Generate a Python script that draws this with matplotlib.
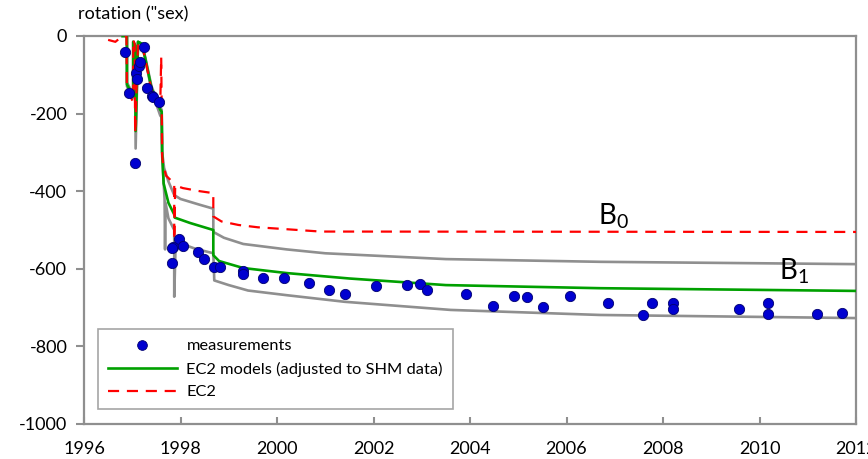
import matplotlib
matplotlib.use('Agg')
import matplotlib.pyplot as plt
from matplotlib.lines import Line2D

plt.rcParams['font.family'] = ['Lato', 'DejaVu Sans']
plt.rcParams['mathtext.fontset'] = 'custom'
plt.rcParams['mathtext.rm'] = 'Lato'
plt.rcParams['mathtext.it'] = 'Lato'
plt.rcParams['mathtext.default'] = 'regular'
plt.rcParams['axes.unicode_minus'] = False

# measured rotations
meas_year = [1996.85, 1996.93, 1997.06, 1997.08, 1997.10, 1997.14, 1997.16, 1997.24,
             1997.31, 1997.41, 1997.43, 1997.56,
             1997.96, 1997.85, 1997.83, 1998.06, 1997.83, 1998.36, 1998.48, 1998.70,
             1998.81, 1999.29, 1999.29, 1999.71, 2000.15,
             2000.67, 2001.07, 2001.40, 2002.06, 2002.69, 2002.96, 2003.11, 2003.91,
             2004.47, 2004.91, 2005.19, 2005.52, 2006.07,
             2006.86, 2007.58, 2007.78, 2008.21, 2008.21, 2009.57, 2010.18, 2010.18,
             2011.19, 2011.71]
meas_rot = [-41, -147, -327, -95, -111, -77, -67, -28,
            -134, -155, -157, -170,
            -523, -543, -547, -540, -584, -557, -575, -595,
            -595, -605, -614, -623, -624,
            -637, -654, -666, -644, -643, -639, -655, -664,
            -697, -669, -672, -699, -669,
            -688, -718, -689, -689, -704, -704, -687, -717,
            -716, -713]

# EC2 model (B0)
ec2_year = [1996.50, 1996.65, 1996.80, 1996.88, 1996.89, 1997.02, 1997.02, 1997.05,
            1997.06, 1997.12, 1997.20, 1997.27, 1997.40, 1997.58, 1997.60, 1997.62,
            1997.64, 1997.70, 1997.87, 1997.87, 1997.89, 1998.05, 1998.40, 1998.68,
            1998.68, 1998.85, 1999.20, 1999.60, 2000.20, 2000.90, 2012.00]
ec2_rot = [-10, -15, 0, 0, -140, -170, -10, -20,
           -250, -15, -20, -60, -140, -180, -55, -310,
           -330, -360, -380, -525, -385, -392, -400, -405,
           -465, -478, -487, -493, -498, -504, -505]

# EC2 adjusted to SHM data (B1)
adj_year = [1996.80, 1996.89, 1996.89, 1997.02, 1997.02, 1997.06, 1997.07, 1997.12,
            1997.20, 1997.27, 1997.40, 1997.58, 1997.61, 1997.62, 1997.65, 1997.75,
            1997.87, 1997.88, 1998.20, 1998.68, 1998.68, 1998.80, 1999.30, 2000.20,
            2001.50, 2003.50, 2006.70, 2012.00]
adj_rot = [0, 0, -125, -155, -15, -25, -245, -15,
           -20, -58, -135, -190, -195, -300, -380, -430,
           -460, -468, -482, -500, -565, -580, -598, -611,
           -625, -642, -650, -657]

# upper and lower bounds of the adjusted model
upper_year = [1996.80, 1996.89, 1996.89, 1997.02, 1997.02, 1997.06, 1997.07, 1997.12,
              1997.20, 1997.27, 1997.40, 1997.58, 1997.61, 1997.62, 1997.66, 1997.75,
              1997.87, 1998.00, 1998.40, 1998.68, 1998.68, 1998.90, 1999.30, 2000.20,
              2001.00, 2003.50, 2006.70, 2012.00]
upper_rot = [0, 0, -120, -150, -15, -25, -240, -15,
             -20, -55, -130, -185, -190, -300, -340, -375,
             -410, -420, -435, -445, -505, -520, -536, -550,
             -560, -575, -582, -588]

lower_year = [1996.80, 1996.89, 1996.89, 1997.02, 1997.02, 1997.06, 1997.07, 1997.12,
              1997.20, 1997.27, 1997.40, 1997.58, 1997.61, 1997.62, 1997.67, 1997.68,
              1997.69, 1997.75, 1997.87, 1997.87, 1997.90, 1998.30, 1998.68, 1998.70,
              1999.00, 1999.40, 2000.20, 2001.40, 2003.60, 2006.70, 2012.00]
lower_rot = [0, 0, -130, -160, -15, -25, -290, -15,
             -22, -60, -140, -205, -210, -310, -420, -550,
             -430, -470, -500, -672, -530, -548, -560, -630,
             -642, -656, -668, -685, -706, -719, -727]

xticks = list(range(1996, 2013, 2))
yticks = list(range(-1000, 1, 200))

gray = '#8f8f8f'

fig = plt.figure(figsize=(8.68, 4.59), dpi=100)
ax = fig.add_axes([84 / 868, 35 / 459, 772 / 868, 388 / 459])

ax.plot(upper_year, upper_rot, color=gray, lw=1.9, zorder=2)
ax.plot(lower_year, lower_rot, color=gray, lw=1.9, zorder=2)
ax.plot(adj_year, adj_rot, color='#00a000', lw=1.9, zorder=3)
ax.plot(ec2_year, ec2_rot, color='#ff0000', lw=1.6, ls=(0, (5, 3.5)), zorder=4)
ax.plot(meas_year, meas_rot, ls='none', marker='o', ms=7.4, mfc='#0000d0',
        mec='#000070', mew=0.6, zorder=5)

ax.set_xlim(1996, 2012)
ax.set_ylim(-1000, 0)
ax.set_xticks(xticks)
ax.set_yticks(yticks)
ax.tick_params(axis='x', direction='in', length=5, width=1.5, color=gray,
               labelsize=13, pad=12)
ax.tick_params(axis='y', direction='out', length=6, width=1.5, color=gray,
               labelsize=13, pad=6)
for s in ax.spines.values():
    s.set_color(gray)
    s.set_linewidth(1.6)

ax.text(2006.66, -464, r'B$_0$', fontsize=20, va='center', ha='left')
ax.text(2010.40, -606, r'B$_1$', fontsize=20, va='center', ha='left')

fig.text(78 / 868, 1 - 14 / 459, 'rotation ("sex)', fontsize=13,
         ha='left', va='center')

handles = [
    Line2D([], [], ls='none', marker='o', ms=7, mfc='#0000d0', mec='#000070', mew=0.6),
    Line2D([], [], color='#00a000', lw=1.9),
    Line2D([], [], color='#ff0000', lw=1.6, ls=(0, (5, 3.5))),
]
labels = ['measurements', 'EC2 models (adjusted to SHM data)', 'EC2']
leg = ax.legend(handles, labels, loc='lower left', bbox_to_anchor=(0.018, 0.038),
                fontsize=11.8, frameon=True, fancybox=False, handlelength=4.2,
                handletextpad=0.6, labelspacing=0.5, borderpad=0.6,
                borderaxespad=0)
leg.get_frame().set_edgecolor(gray)
leg.get_frame().set_linewidth(1.2)

fig.savefig('out.png', dpi=100)
plt.close(fig)
